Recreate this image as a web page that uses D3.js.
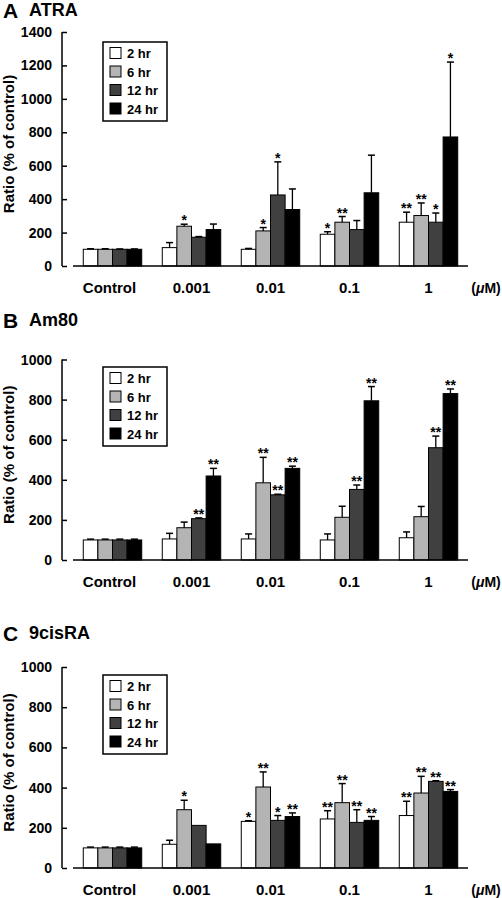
<!DOCTYPE html>
<html><head><meta charset="utf-8">
<script src="https://cdn.jsdelivr.net/npm/d3@7"></script>
<style>
html,body{margin:0;padding:0;background:#fff;}
svg{display:block;font-family:"Liberation Sans",Arial,Helvetica,sans-serif;font-weight:bold;}
</style></head><body>
<svg id="c" width="502" height="898"></svg>
<script>
const categories = ["Control", "0.001", "0.01", "0.1", "1"];
const series = ["2 hr", "6 hr", "12 hr", "24 hr"];
const seriesColors = ["#ffffff", "#b4b4b4", "#404040", "#000000"];

// Panel A: ATRA
const atraValues = [
  [100, 110, 100, 190, 262],
  [100, 238, 210, 262, 302],
  [100, 172, 425, 218, 262],
  [100, 218, 338, 438, 772]
];
const atraErrors = [
  [3, 30, 5, 15, 60],
  [3, 12, 20, 34, 75],
  [2, 4, 198, 54, 55],
  [2, 33, 123, 225, 448]
];
const atraStars = [
  ["", "", "", "*", "**"],
  ["", "*", "*", "**", "**"],
  ["", "", "*", "", "*"],
  ["", "", "", "", "*"]
];
const atraTicks = [0, 200, 400, 600, 800, 1000, 1200, 1400];

// Panel B: Am80
const am80Values = [
  [100, 105, 105, 100, 111],
  [100, 161, 385, 213, 216],
  [100, 206, 325, 352, 560],
  [100, 419, 457, 794, 830]
];
const am80Errors = [
  [4, 28, 25, 30, 29],
  [4, 28, 127, 55, 51],
  [4, 4, 3, 22, 58],
  [4, 38, 11, 71, 23]
];
const am80Stars = [
  ["", "", "", "", ""],
  ["", "", "**", "", ""],
  ["", "**", "**", "**", "**"],
  ["", "**", "**", "**", "**"]
];
const am80Ticks = [0, 200, 400, 600, 800, 1000];

// Panel C: 9cisRA
const cisValues = [
  [100, 118, 232, 244, 261],
  [100, 290, 403, 325, 373],
  [100, 212, 237, 227, 431],
  [100, 120, 256, 237, 381]
];
const cisErrors = [
  [4, 20, 3, 41, 71],
  [4, 47, 75, 95, 83],
  [4, 0, 24, 63, 3],
  [4, 0, 18, 19, 9]
];
const cisStars = [
  ["", "", "*", "**", "**"],
  ["", "*", "**", "**", "**"],
  ["", "", "*", "**", "**"],
  ["", "", "**", "**", "**"]
];
const cisTicks = [0, 200, 400, 600, 800, 1000];

const panels = [
  {letter: "A", name: "ATRA", values: atraValues, errors: atraErrors, stars: atraStars, ticks: atraTicks,
   titleY: 16, top: 32, bottom: 266, legendTop: 42},
  {letter: "B", name: "Am80", values: am80Values, errors: am80Errors, stars: am80Stars, ticks: am80Ticks,
   titleY: 326, top: 359.5, bottom: 560, legendTop: 367},
  {letter: "C", name: "9cisRA", values: cisValues, errors: cisErrors, stars: cisStars, ticks: cisTicks,
   titleY: 639, top: 667, bottom: 868, legendTop: 675}
];

const svg = d3.select("#c");
const axisX = 62, xStart = 73, xEnd = 468;

const x0 = d3.scaleBand().domain(categories).range([xStart, xEnd]).paddingInner(0.26).paddingOuter(0.13);
const x1 = d3.scaleBand().domain(series).range([0, x0.bandwidth()]).padding(0);

panels.forEach(p => {
  const g = svg.append("g");
  const tickMax = p.ticks[p.ticks.length - 1];
  const y = d3.scaleLinear().domain([0, tickMax]).range([p.bottom, p.top]);

  // title
  g.append("text").attr("x", 3).attr("y", p.titleY + 2).attr("font-size", 21).text(p.letter);
  g.append("text").attr("x", 29).attr("y", p.titleY).attr("font-size", 18).text(p.name);

  // y axis
  const yAxis = d3.axisRight(y).tickValues(p.ticks).tickSize(5).tickFormat("");
  const ya = g.append("g").attr("transform", `translate(${axisX},0)`).call(yAxis);
  ya.select(".domain").remove();
  ya.selectAll("line").attr("stroke", "#000").attr("stroke-width", 1.5);
  g.append("line").attr("x1", axisX).attr("x2", axisX).attr("y1", y(tickMax)).attr("y2", y(0))
    .attr("stroke", "#000").attr("stroke-width", 1.5);
  g.selectAll(".ylab").data(p.ticks).enter().append("text")
    .attr("x", 52).attr("y", d => y(d) + 5).attr("text-anchor", "end").attr("font-size", 14).text(d => d);

  // y title
  g.append("text").attr("transform", `translate(14,${(p.top + p.bottom) / 2 - 5}) rotate(-90)`)
    .attr("text-anchor", "middle").attr("font-size", 15).text("Ratio (% of control)");

  // bars
  series.forEach((s, si) => {
    categories.forEach((c, ci) => {
      const v = p.values[si][ci];
      const e = p.errors[si][ci];
      const bx = x0(c) + x1(s);
      const bw = x1.bandwidth();
      g.append("rect").attr("x", bx).attr("y", y(v)).attr("width", bw).attr("height", y(0) - y(v))
        .attr("fill", seriesColors[si]).attr("stroke", "#000").attr("stroke-width", 1);
      const cx = bx + bw / 2;
      let capY = y(v);
      if (e > 0) {
        capY = y(v + e);
        g.append("line").attr("x1", cx).attr("x2", cx).attr("y1", y(v)).attr("y2", capY)
          .attr("stroke", "#000").attr("stroke-width", 1.3);
        g.append("line").attr("x1", cx - 3.5).attr("x2", cx + 3.5).attr("y1", capY).attr("y2", capY)
          .attr("stroke", "#000").attr("stroke-width", 1.5);
      }
      const st = p.stars[si][ci];
      if (st) {
        g.append("text").attr("x", cx).attr("y", capY + 1).attr("text-anchor", "middle")
          .attr("font-size", 14).text(st);
      }
    });
  });

  // x axis line
  g.append("line").attr("x1", xStart).attr("x2", xEnd).attr("y1", y(0)).attr("y2", y(0))
    .attr("stroke", "#000").attr("stroke-width", 1.5);

  // x labels
  g.selectAll(".xlab").data(categories).enter().append("text")
    .attr("x", d => x0(d) + x0.bandwidth() / 2 - (d === "Control" ? 3 : 0))
    .attr("y", y(0) + 27).attr("text-anchor", "middle").attr("font-size", 15).text(d => d);
  const um = g.append("text").attr("x", 486).attr("y", y(0) + 27).attr("text-anchor", "middle").attr("font-size", 14);
  um.append("tspan").text("(");
  um.append("tspan").attr("font-style", "italic").text("\u03bc");
  um.append("tspan").text("M)");

  // legend
  const lg = g.append("g").attr("transform", `translate(103,${p.legendTop})`);
  lg.append("rect").attr("x", 0).attr("y", 0).attr("width", 64).attr("height", 79)
    .attr("fill", "#fff").attr("stroke", "#000").attr("stroke-width", 1.5);
  series.forEach((s, si) => {
    const ry = 11 + si * 18.5;
    lg.append("rect").attr("x", 7).attr("y", ry - 5.5).attr("width", 11).attr("height", 11)
      .attr("fill", seriesColors[si]).attr("stroke", "#000").attr("stroke-width", 1);
    lg.append("text").attr("x", 24).attr("y", ry + 5).attr("font-size", 13).text(s);
  });
});
</script>
</body></html>
